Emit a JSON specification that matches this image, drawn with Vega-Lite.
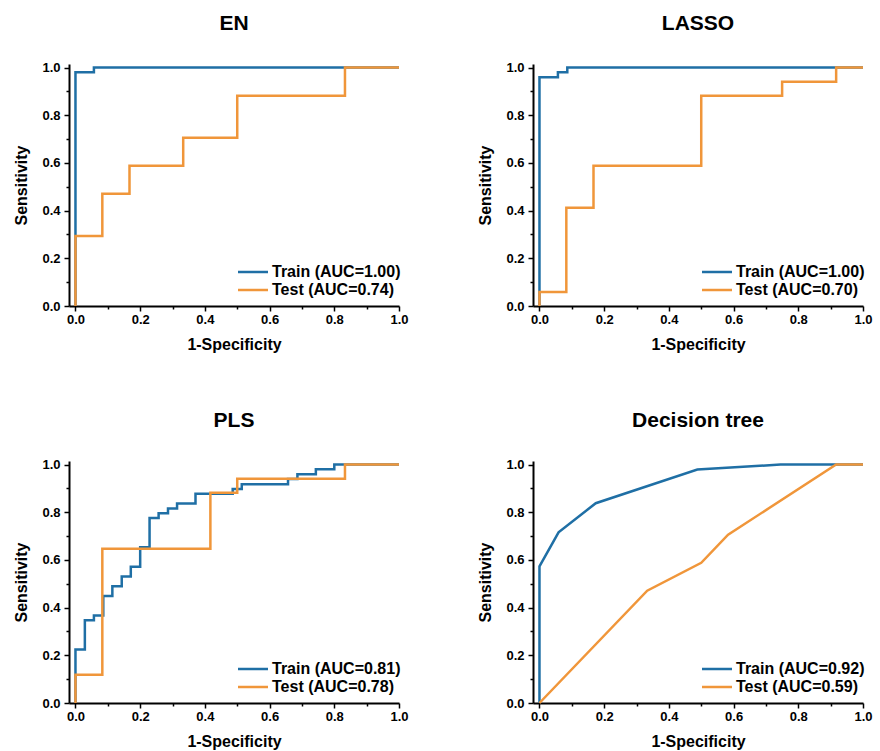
{
  "$schema": "https://vega.github.io/schema/vega-lite/v6.json",
  "background": "white",
  "padding": {"left": 13, "top": 12, "right": 10, "bottom": 10},
  "columns": 2,
  "bounds": "flush",
  "spacing": {"row": 155, "column": 134},
  "datasets": {
    "roc": [
      {"panel": "EN", "series": "Train (AUC=1.00)", "step": 0, "fpr": 0, "tpr": 0},
      {"panel": "EN", "series": "Train (AUC=1.00)", "step": 1, "fpr": 0, "tpr": 0.98},
      {"panel": "EN", "series": "Train (AUC=1.00)", "step": 2, "fpr": 0.057, "tpr": 0.98},
      {"panel": "EN", "series": "Train (AUC=1.00)", "step": 3, "fpr": 0.057, "tpr": 1},
      {"panel": "EN", "series": "Train (AUC=1.00)", "step": 4, "fpr": 1, "tpr": 1},
      {"panel": "EN", "series": "Test (AUC=0.74)", "step": 0, "fpr": 0, "tpr": 0},
      {"panel": "EN", "series": "Test (AUC=0.74)", "step": 1, "fpr": 0, "tpr": 0.294},
      {"panel": "EN", "series": "Test (AUC=0.74)", "step": 2, "fpr": 0.083, "tpr": 0.294},
      {"panel": "EN", "series": "Test (AUC=0.74)", "step": 3, "fpr": 0.083, "tpr": 0.471},
      {"panel": "EN", "series": "Test (AUC=0.74)", "step": 4, "fpr": 0.167, "tpr": 0.471},
      {"panel": "EN", "series": "Test (AUC=0.74)", "step": 5, "fpr": 0.167, "tpr": 0.588},
      {"panel": "EN", "series": "Test (AUC=0.74)", "step": 6, "fpr": 0.333, "tpr": 0.588},
      {"panel": "EN", "series": "Test (AUC=0.74)", "step": 7, "fpr": 0.333, "tpr": 0.706},
      {"panel": "EN", "series": "Test (AUC=0.74)", "step": 8, "fpr": 0.5, "tpr": 0.706},
      {"panel": "EN", "series": "Test (AUC=0.74)", "step": 9, "fpr": 0.5, "tpr": 0.882},
      {"panel": "EN", "series": "Test (AUC=0.74)", "step": 10, "fpr": 0.833, "tpr": 0.882},
      {"panel": "EN", "series": "Test (AUC=0.74)", "step": 11, "fpr": 0.833, "tpr": 1},
      {"panel": "EN", "series": "Test (AUC=0.74)", "step": 12, "fpr": 1, "tpr": 1},

      {"panel": "LASSO", "series": "Train (AUC=1.00)", "step": 0, "fpr": 0, "tpr": 0},
      {"panel": "LASSO", "series": "Train (AUC=1.00)", "step": 1, "fpr": 0, "tpr": 0.959},
      {"panel": "LASSO", "series": "Train (AUC=1.00)", "step": 2, "fpr": 0.057, "tpr": 0.959},
      {"panel": "LASSO", "series": "Train (AUC=1.00)", "step": 3, "fpr": 0.057, "tpr": 0.98},
      {"panel": "LASSO", "series": "Train (AUC=1.00)", "step": 4, "fpr": 0.086, "tpr": 0.98},
      {"panel": "LASSO", "series": "Train (AUC=1.00)", "step": 5, "fpr": 0.086, "tpr": 1},
      {"panel": "LASSO", "series": "Train (AUC=1.00)", "step": 6, "fpr": 1, "tpr": 1},
      {"panel": "LASSO", "series": "Test (AUC=0.70)", "step": 0, "fpr": 0, "tpr": 0},
      {"panel": "LASSO", "series": "Test (AUC=0.70)", "step": 1, "fpr": 0, "tpr": 0.059},
      {"panel": "LASSO", "series": "Test (AUC=0.70)", "step": 2, "fpr": 0.083, "tpr": 0.059},
      {"panel": "LASSO", "series": "Test (AUC=0.70)", "step": 3, "fpr": 0.083, "tpr": 0.412},
      {"panel": "LASSO", "series": "Test (AUC=0.70)", "step": 4, "fpr": 0.167, "tpr": 0.412},
      {"panel": "LASSO", "series": "Test (AUC=0.70)", "step": 5, "fpr": 0.167, "tpr": 0.588},
      {"panel": "LASSO", "series": "Test (AUC=0.70)", "step": 6, "fpr": 0.5, "tpr": 0.588},
      {"panel": "LASSO", "series": "Test (AUC=0.70)", "step": 7, "fpr": 0.5, "tpr": 0.882},
      {"panel": "LASSO", "series": "Test (AUC=0.70)", "step": 8, "fpr": 0.75, "tpr": 0.882},
      {"panel": "LASSO", "series": "Test (AUC=0.70)", "step": 9, "fpr": 0.75, "tpr": 0.941},
      {"panel": "LASSO", "series": "Test (AUC=0.70)", "step": 10, "fpr": 0.917, "tpr": 0.941},
      {"panel": "LASSO", "series": "Test (AUC=0.70)", "step": 11, "fpr": 0.917, "tpr": 1},
      {"panel": "LASSO", "series": "Test (AUC=0.70)", "step": 12, "fpr": 1, "tpr": 1},

      {"panel": "PLS", "series": "Train (AUC=0.81)", "step": 0, "fpr": 0, "tpr": 0},
      {"panel": "PLS", "series": "Train (AUC=0.81)", "step": 1, "fpr": 0, "tpr": 0.224},
      {"panel": "PLS", "series": "Train (AUC=0.81)", "step": 2, "fpr": 0.029, "tpr": 0.224},
      {"panel": "PLS", "series": "Train (AUC=0.81)", "step": 3, "fpr": 0.029, "tpr": 0.347},
      {"panel": "PLS", "series": "Train (AUC=0.81)", "step": 4, "fpr": 0.057, "tpr": 0.347},
      {"panel": "PLS", "series": "Train (AUC=0.81)", "step": 5, "fpr": 0.057, "tpr": 0.367},
      {"panel": "PLS", "series": "Train (AUC=0.81)", "step": 6, "fpr": 0.086, "tpr": 0.367},
      {"panel": "PLS", "series": "Train (AUC=0.81)", "step": 7, "fpr": 0.086, "tpr": 0.449},
      {"panel": "PLS", "series": "Train (AUC=0.81)", "step": 8, "fpr": 0.114, "tpr": 0.449},
      {"panel": "PLS", "series": "Train (AUC=0.81)", "step": 9, "fpr": 0.114, "tpr": 0.49},
      {"panel": "PLS", "series": "Train (AUC=0.81)", "step": 10, "fpr": 0.143, "tpr": 0.49},
      {"panel": "PLS", "series": "Train (AUC=0.81)", "step": 11, "fpr": 0.143, "tpr": 0.531},
      {"panel": "PLS", "series": "Train (AUC=0.81)", "step": 12, "fpr": 0.171, "tpr": 0.531},
      {"panel": "PLS", "series": "Train (AUC=0.81)", "step": 13, "fpr": 0.171, "tpr": 0.571},
      {"panel": "PLS", "series": "Train (AUC=0.81)", "step": 14, "fpr": 0.2, "tpr": 0.571},
      {"panel": "PLS", "series": "Train (AUC=0.81)", "step": 15, "fpr": 0.2, "tpr": 0.653},
      {"panel": "PLS", "series": "Train (AUC=0.81)", "step": 16, "fpr": 0.229, "tpr": 0.653},
      {"panel": "PLS", "series": "Train (AUC=0.81)", "step": 17, "fpr": 0.229, "tpr": 0.776},
      {"panel": "PLS", "series": "Train (AUC=0.81)", "step": 18, "fpr": 0.257, "tpr": 0.776},
      {"panel": "PLS", "series": "Train (AUC=0.81)", "step": 19, "fpr": 0.257, "tpr": 0.796},
      {"panel": "PLS", "series": "Train (AUC=0.81)", "step": 20, "fpr": 0.286, "tpr": 0.796},
      {"panel": "PLS", "series": "Train (AUC=0.81)", "step": 21, "fpr": 0.286, "tpr": 0.816},
      {"panel": "PLS", "series": "Train (AUC=0.81)", "step": 22, "fpr": 0.314, "tpr": 0.816},
      {"panel": "PLS", "series": "Train (AUC=0.81)", "step": 23, "fpr": 0.314, "tpr": 0.837},
      {"panel": "PLS", "series": "Train (AUC=0.81)", "step": 24, "fpr": 0.371, "tpr": 0.837},
      {"panel": "PLS", "series": "Train (AUC=0.81)", "step": 25, "fpr": 0.371, "tpr": 0.878},
      {"panel": "PLS", "series": "Train (AUC=0.81)", "step": 26, "fpr": 0.486, "tpr": 0.878},
      {"panel": "PLS", "series": "Train (AUC=0.81)", "step": 27, "fpr": 0.486, "tpr": 0.898},
      {"panel": "PLS", "series": "Train (AUC=0.81)", "step": 28, "fpr": 0.514, "tpr": 0.898},
      {"panel": "PLS", "series": "Train (AUC=0.81)", "step": 29, "fpr": 0.514, "tpr": 0.918},
      {"panel": "PLS", "series": "Train (AUC=0.81)", "step": 30, "fpr": 0.657, "tpr": 0.918},
      {"panel": "PLS", "series": "Train (AUC=0.81)", "step": 31, "fpr": 0.657, "tpr": 0.939},
      {"panel": "PLS", "series": "Train (AUC=0.81)", "step": 32, "fpr": 0.686, "tpr": 0.939},
      {"panel": "PLS", "series": "Train (AUC=0.81)", "step": 33, "fpr": 0.686, "tpr": 0.959},
      {"panel": "PLS", "series": "Train (AUC=0.81)", "step": 34, "fpr": 0.743, "tpr": 0.959},
      {"panel": "PLS", "series": "Train (AUC=0.81)", "step": 35, "fpr": 0.743, "tpr": 0.98},
      {"panel": "PLS", "series": "Train (AUC=0.81)", "step": 36, "fpr": 0.8, "tpr": 0.98},
      {"panel": "PLS", "series": "Train (AUC=0.81)", "step": 37, "fpr": 0.8, "tpr": 1},
      {"panel": "PLS", "series": "Train (AUC=0.81)", "step": 38, "fpr": 1, "tpr": 1},
      {"panel": "PLS", "series": "Test (AUC=0.78)", "step": 0, "fpr": 0, "tpr": 0},
      {"panel": "PLS", "series": "Test (AUC=0.78)", "step": 1, "fpr": 0, "tpr": 0.118},
      {"panel": "PLS", "series": "Test (AUC=0.78)", "step": 2, "fpr": 0.083, "tpr": 0.118},
      {"panel": "PLS", "series": "Test (AUC=0.78)", "step": 3, "fpr": 0.083, "tpr": 0.647},
      {"panel": "PLS", "series": "Test (AUC=0.78)", "step": 4, "fpr": 0.417, "tpr": 0.647},
      {"panel": "PLS", "series": "Test (AUC=0.78)", "step": 5, "fpr": 0.417, "tpr": 0.882},
      {"panel": "PLS", "series": "Test (AUC=0.78)", "step": 6, "fpr": 0.5, "tpr": 0.882},
      {"panel": "PLS", "series": "Test (AUC=0.78)", "step": 7, "fpr": 0.5, "tpr": 0.941},
      {"panel": "PLS", "series": "Test (AUC=0.78)", "step": 8, "fpr": 0.833, "tpr": 0.941},
      {"panel": "PLS", "series": "Test (AUC=0.78)", "step": 9, "fpr": 0.833, "tpr": 1},
      {"panel": "PLS", "series": "Test (AUC=0.78)", "step": 10, "fpr": 1, "tpr": 1},

      {"panel": "Decision tree", "series": "Train (AUC=0.92)", "step": 0, "fpr": 0, "tpr": 0},
      {"panel": "Decision tree", "series": "Train (AUC=0.92)", "step": 1, "fpr": 0, "tpr": 0.573},
      {"panel": "Decision tree", "series": "Train (AUC=0.92)", "step": 2, "fpr": 0.059, "tpr": 0.716},
      {"panel": "Decision tree", "series": "Train (AUC=0.92)", "step": 3, "fpr": 0.174, "tpr": 0.838},
      {"panel": "Decision tree", "series": "Train (AUC=0.92)", "step": 4, "fpr": 0.488, "tpr": 0.979},
      {"panel": "Decision tree", "series": "Train (AUC=0.92)", "step": 5, "fpr": 0.745, "tpr": 1},
      {"panel": "Decision tree", "series": "Train (AUC=0.92)", "step": 6, "fpr": 1, "tpr": 1},
      {"panel": "Decision tree", "series": "Test (AUC=0.59)", "step": 0, "fpr": 0, "tpr": 0},
      {"panel": "Decision tree", "series": "Test (AUC=0.59)", "step": 1, "fpr": 0.333, "tpr": 0.471},
      {"panel": "Decision tree", "series": "Test (AUC=0.59)", "step": 2, "fpr": 0.5, "tpr": 0.588},
      {"panel": "Decision tree", "series": "Test (AUC=0.59)", "step": 3, "fpr": 0.583, "tpr": 0.706},
      {"panel": "Decision tree", "series": "Test (AUC=0.59)", "step": 4, "fpr": 0.917, "tpr": 1},
      {"panel": "Decision tree", "series": "Test (AUC=0.59)", "step": 5, "fpr": 1, "tpr": 1}
    ]
  },
  "resolve": {"scale": {"color": "independent"}, "legend": {"color": "independent"}},
  "concat": [
    {
      "title": "EN",
      "width": 330, "height": 242,
      "data": {"name": "roc"},
      "transform": [{"filter": "datum.panel === 'EN'"}],
      "mark": {"type": "line", "strokeWidth": 2.5, "interpolate": "linear"},
      "encoding": {
        "x": {"field": "fpr", "type": "quantitative", "title": "1-Specificity",
              "scale": {"domain": [-0.02, 1.0], "nice": false, "zero": false},
              "axis": {"values": [0, 0.1, 0.2, 0.3, 0.4, 0.5, 0.6, 0.7, 0.8, 0.9, 1.0],
                       "labelExpr": "round(datum.value * 10) % 2 === 0 ? format(datum.value, '.1f') : ''",
                       "tickSize": {"condition": {"test": "round(datum.value * 10) % 2 === 0", "value": 5}, "value": 3}}},
        "y": {"field": "tpr", "type": "quantitative", "title": "Sensitivity",
              "scale": {"domain": [0, 1.015], "nice": false},
              "axis": {"values": [0, 0.1, 0.2, 0.3, 0.4, 0.5, 0.6, 0.7, 0.8, 0.9, 1.0],
                       "labelExpr": "round(datum.value * 10) % 2 === 0 ? format(datum.value, '.1f') : ''",
                       "tickSize": {"condition": {"test": "round(datum.value * 10) % 2 === 0", "value": 5}, "value": 3}}},
        "color": {"field": "series", "type": "nominal",
                  "scale": {"domain": ["Train (AUC=1.00)", "Test (AUC=0.74)"], "range": ["#1f6fa5", "#f0963a"]},
                  "legend": {"title": null}},
        "order": {"field": "step", "type": "quantitative"}
      }
    },
    {
      "title": "LASSO",
      "width": 330, "height": 242,
      "data": {"name": "roc"},
      "transform": [{"filter": "datum.panel === 'LASSO'"}],
      "mark": {"type": "line", "strokeWidth": 2.5, "interpolate": "linear"},
      "encoding": {
        "x": {"field": "fpr", "type": "quantitative", "title": "1-Specificity",
              "scale": {"domain": [-0.02, 1.0], "nice": false, "zero": false},
              "axis": {"values": [0, 0.1, 0.2, 0.3, 0.4, 0.5, 0.6, 0.7, 0.8, 0.9, 1.0],
                       "labelExpr": "round(datum.value * 10) % 2 === 0 ? format(datum.value, '.1f') : ''",
                       "tickSize": {"condition": {"test": "round(datum.value * 10) % 2 === 0", "value": 5}, "value": 3}}},
        "y": {"field": "tpr", "type": "quantitative", "title": "Sensitivity",
              "scale": {"domain": [0, 1.015], "nice": false},
              "axis": {"values": [0, 0.1, 0.2, 0.3, 0.4, 0.5, 0.6, 0.7, 0.8, 0.9, 1.0],
                       "labelExpr": "round(datum.value * 10) % 2 === 0 ? format(datum.value, '.1f') : ''",
                       "tickSize": {"condition": {"test": "round(datum.value * 10) % 2 === 0", "value": 5}, "value": 3}}},
        "color": {"field": "series", "type": "nominal",
                  "scale": {"domain": ["Train (AUC=1.00)", "Test (AUC=0.70)"], "range": ["#1f6fa5", "#f0963a"]},
                  "legend": {"title": null}},
        "order": {"field": "step", "type": "quantitative"}
      }
    },
    {
      "title": "PLS",
      "width": 330, "height": 242,
      "data": {"name": "roc"},
      "transform": [{"filter": "datum.panel === 'PLS'"}],
      "mark": {"type": "line", "strokeWidth": 2.5, "interpolate": "linear"},
      "encoding": {
        "x": {"field": "fpr", "type": "quantitative", "title": "1-Specificity",
              "scale": {"domain": [-0.02, 1.0], "nice": false, "zero": false},
              "axis": {"values": [0, 0.1, 0.2, 0.3, 0.4, 0.5, 0.6, 0.7, 0.8, 0.9, 1.0],
                       "labelExpr": "round(datum.value * 10) % 2 === 0 ? format(datum.value, '.1f') : ''",
                       "tickSize": {"condition": {"test": "round(datum.value * 10) % 2 === 0", "value": 5}, "value": 3}}},
        "y": {"field": "tpr", "type": "quantitative", "title": "Sensitivity",
              "scale": {"domain": [0, 1.015], "nice": false},
              "axis": {"values": [0, 0.1, 0.2, 0.3, 0.4, 0.5, 0.6, 0.7, 0.8, 0.9, 1.0],
                       "labelExpr": "round(datum.value * 10) % 2 === 0 ? format(datum.value, '.1f') : ''",
                       "tickSize": {"condition": {"test": "round(datum.value * 10) % 2 === 0", "value": 5}, "value": 3}}},
        "color": {"field": "series", "type": "nominal",
                  "scale": {"domain": ["Train (AUC=0.81)", "Test (AUC=0.78)"], "range": ["#1f6fa5", "#f0963a"]},
                  "legend": {"title": null}},
        "order": {"field": "step", "type": "quantitative"}
      }
    },
    {
      "title": "Decision tree",
      "width": 330, "height": 242,
      "data": {"name": "roc"},
      "transform": [{"filter": "datum.panel === 'Decision tree'"}],
      "mark": {"type": "line", "strokeWidth": 2.5, "interpolate": "linear"},
      "encoding": {
        "x": {"field": "fpr", "type": "quantitative", "title": "1-Specificity",
              "scale": {"domain": [-0.02, 1.0], "nice": false, "zero": false},
              "axis": {"values": [0, 0.1, 0.2, 0.3, 0.4, 0.5, 0.6, 0.7, 0.8, 0.9, 1.0],
                       "labelExpr": "round(datum.value * 10) % 2 === 0 ? format(datum.value, '.1f') : ''",
                       "tickSize": {"condition": {"test": "round(datum.value * 10) % 2 === 0", "value": 5}, "value": 3}}},
        "y": {"field": "tpr", "type": "quantitative", "title": "Sensitivity",
              "scale": {"domain": [0, 1.015], "nice": false},
              "axis": {"values": [0, 0.1, 0.2, 0.3, 0.4, 0.5, 0.6, 0.7, 0.8, 0.9, 1.0],
                       "labelExpr": "round(datum.value * 10) % 2 === 0 ? format(datum.value, '.1f') : ''",
                       "tickSize": {"condition": {"test": "round(datum.value * 10) % 2 === 0", "value": 5}, "value": 3}}},
        "color": {"field": "series", "type": "nominal",
                  "scale": {"domain": ["Train (AUC=0.92)", "Test (AUC=0.59)"], "range": ["#1f6fa5", "#f0963a"]},
                  "legend": {"title": null}},
        "order": {"field": "step", "type": "quantitative"}
      }
    }
  ],
  "config": {
    "view": {"stroke": null},
    "font": "Liberation Sans",
    "title": {"fontSize": 21, "fontWeight": "bold", "color": "black", "offset": 28, "anchor": "middle"},
    "axis": {
      "grid": false,
      "domainColor": "black", "domainWidth": 2,
      "tickColor": "black", "tickWidth": 1.5,
      "labelFont": "Liberation Sans", "labelFontSize": 13, "labelFontWeight": "bold", "labelColor": "black",
      "labelFlush": false, "labelOverlap": false,
      "titleFont": "Liberation Sans", "titleFontSize": 16, "titleFontWeight": "bold", "titleColor": "black"
    },
    "axisX": {"labelPadding": 2, "titlePadding": 10},
    "axisY": {"labelPadding": 4, "titlePadding": 12},
    "legend": {
      "orient": "none", "legendX": 176, "legendY": 200,
      "symbolType": "M-3,0H3", "symbolSize": 100, "symbolStrokeWidth": 2.5,
      "labelFont": "Liberation Sans", "labelFontSize": 16, "labelFontWeight": "bold", "labelColor": "black",
      "labelOffset": 11, "rowPadding": 2, "padding": 0
    }
  }
}
